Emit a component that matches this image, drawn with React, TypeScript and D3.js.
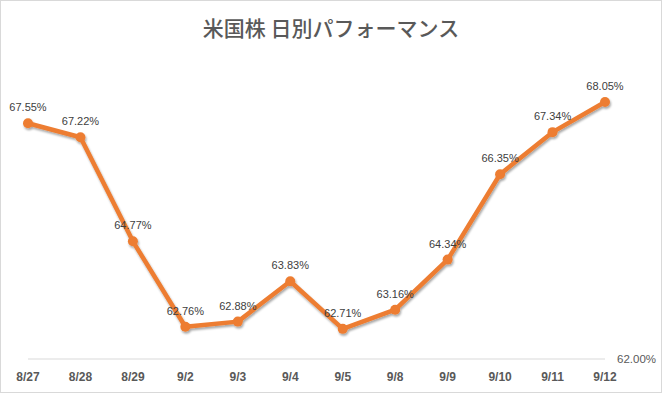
import React, { useEffect } from "react";
import * as d3 from "d3";

const categories = ["8/27", "8/28", "8/29", "9/2", "9/3", "9/4", "9/5", "9/8", "9/9", "9/10", "9/11", "9/12"];
const values = [67.55, 67.22, 64.77, 62.76, 62.88, 63.83, 62.71, 63.16, 64.34, 66.35, 67.34, 68.05];
const title = "米国株 日別パフォーマンス";
const axisMinLabel = "62.00%";
const axisMin = 62;

const W = 662;
const H = 393;

export default function App() {
  useEffect(() => {
    document.body.style.margin = "0";
  }, []);

  const x = d3.scalePoint<string>().domain(categories).range([28, 605]);
  const y = d3.scaleLinear().domain([axisMin, 68.05]).range([359, 102]);
  const line = d3
    .line<number>()
    .x((_, i) => x(categories[i]) as number)
    .y((d) => y(d));

  const font = "'Liberation Sans', Arial, sans-serif";

  return (
    <div style={{ position: "absolute", left: 0, top: 0 }}>
      <svg width={W} height={H} style={{ display: "block" }}>
        <defs>
          <filter id="sh" x="-10%" y="-10%" width="120%" height="130%">
            <feDropShadow dx="1" dy="2" stdDeviation="1.2" floodColor="#000" floodOpacity="0.35" />
          </filter>
        </defs>
        <rect x={0.5} y={0.5} width={W - 1} height={H - 1} fill="#fff" stroke="#d9d9d9" />
        <text
          x={331}
          y={36}
          textAnchor="middle"
          fontFamily="'Noto Sans CJK JP', sans-serif"
          fontSize={21}
          fontWeight={500}
          fill="#595959"
        >
          {title}
        </text>
        <line x1={x(categories[0])} x2={x(categories[categories.length - 1])} y1={y(axisMin)} y2={y(axisMin)} stroke="#d9d9d9" strokeWidth={1} />
        <text x={617} y={y(axisMin) + 4} fontFamily={font} fontSize={11.5} fill="#595959">
          {axisMinLabel}
        </text>
        {categories.map((c) => (
          <text key={c} x={x(c)} y={381} textAnchor="middle" fontFamily={font} fontSize={12} fontWeight="bold" fill="#595959">
            {c}
          </text>
        ))}
        <g filter="url(#sh)">
          <path d={line(values) || ""} fill="none" stroke="#ED7D31" strokeWidth={4.5} strokeLinejoin="round" />
          {values.map((v, i) => (
            <circle key={i} cx={x(categories[i])} cy={y(v)} r={5} fill="#ED7D31" />
          ))}
        </g>
        {values.map((v, i) => (
          <text key={"l" + i} x={x(categories[i])} y={y(v) - 12} textAnchor="middle" fontFamily={font} fontSize={11} fill="#404040">
            {v.toFixed(2) + "%"}
          </text>
        ))}
      </svg>
    </div>
  );
}
